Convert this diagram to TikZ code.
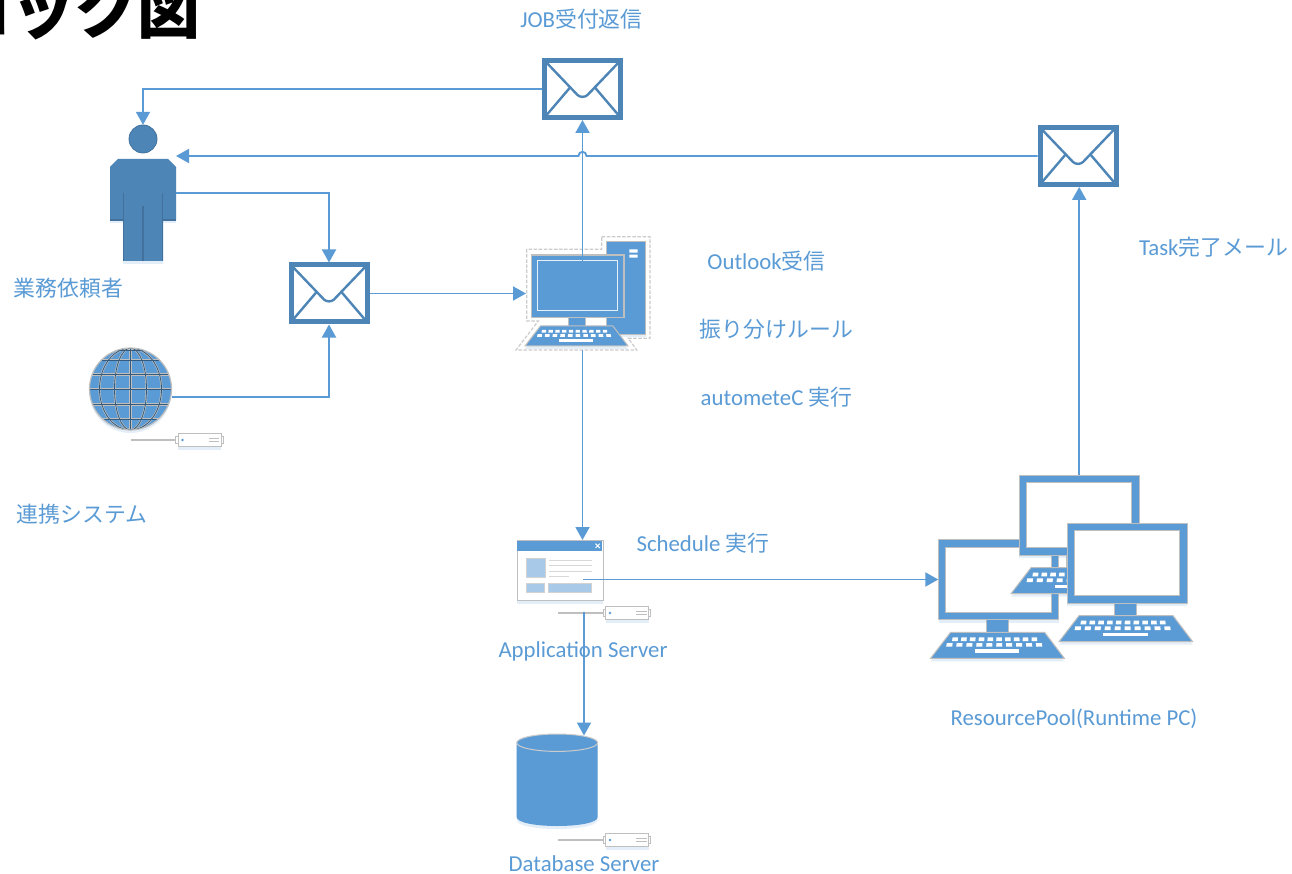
\documentclass[tikz,border=0pt]{standalone}
\usepackage{fontspec}
\setmainfont{Carlito}
\newfontfamily\cjk[Scale=0.96]{Noto Sans CJK JP}
\usetikzlibrary{arrows.meta,shadows,calc}
\definecolor{bl}{HTML}{5B9BD5}
\definecolor{dk}{HTML}{4E85B7}
\definecolor{dkl}{HTML}{41719C}
\definecolor{gr}{HTML}{BFBFBF}
\definecolor{lb}{HTML}{A9C9E8}
\tikzset{
  softshadow/.style={drop shadow={shadow xshift=0pt,shadow yshift=-3pt,fill=bl,opacity=.16}},
  link/.style={draw=bl,line width=1.9pt,-{Triangle[width=14pt,length=13pt]}},
  label/.style={text=bl,font=\fontsize{22.8}{26}\selectfont,inner sep=0pt},
  mailbox/.style={rectangle,draw=dk,fill=white,line width=5pt,minimum width=76pt,minimum height=57pt,inner sep=0pt,
    path picture={
      \begin{scope}[shift={(path picture bounding box.center)}]
        \draw[dk,line width=2.4pt,line join=round] (-38,-28.5) -- (-5,6) .. controls (-2.5,8.5) and (2.5,8.5) .. (5,6) -- (38,-28.5);
        \draw[dk,line width=2.4pt] (-38,28.5) -- (-12,-2) (38,28.5) -- (12,-2);
      \end{scope}
    }},
  monitorbox/.style={rectangle,draw=gr,fill=bl,line width=1pt,minimum width=120pt,minimum height=80pt,inner sep=0pt,anchor=north west,softshadow},
  pcpart/.style={draw=gr,fill=bl,line width=1pt},
  tagbox/.style={draw=gr,line width=1pt,fill=white},
  keyfill/.style={fill=white,draw=none}
}
% stand, keyboard and keys in the monitor's own frame
\newcommand{\kbdparts}{%
  \fill[bl] (48,80) rectangle (70,93);
  \draw[gr,line width=.8pt] (48,80) -- (48,93) (70,80) -- (70,93);
  \path[pcpart,softshadow] (12.3,93) -- (106.3,93) -- (126,119) -- (-7.7,119) -- cycle;
  \foreach \i in {0,...,9}{
    \pgfmathsetmacro{\xa}{18+\i*8.55}
    \pgfmathsetmacro{\sk}{(\i-4.5)*.22}
    \fill[keyfill] (\xa-2.7+\sk,98) -- (\xa+2.7+\sk,98) -- (\xa+2.7+\sk*1.3,101.7) -- (\xa-3+\sk*1.3,101.7) -- cycle;
    \pgfmathsetmacro{\xb}{13+\i*9.55}
    \pgfmathsetmacro{\sl}{(\i-4.5)*.35}
    \fill[keyfill] (\xb-2.9+\sl,103.7) -- (\xb+2.9+\sl,103.7) -- (\xb+3+\sl*1.3,107.4) -- (\xb-3.1+\sl*1.3,107.4) -- cycle;
  }
  \fill[keyfill] (36.7,110) rectangle (81,113.4);
}
% #1 name, #2 x, #3 y
\newcommand{\monitorat}[3]{%
  \begin{scope}[shift={(#2,#3)}]
    \kbdparts
    \node[monitorbox] (#1) at (0,0) {};
    \draw[gr,fill=white,line width=1pt] (7.3,7.7) rectangle (113,73);
  \end{scope}}
% #1 name, #2 x of line start, #3 y
\newcommand{\servertag}[3]{%
  \begin{scope}[shift={(#2,#3)}]
    \draw[gr,line width=1.2pt] (0,0) -- (45,0);
    \path[tagbox] (45,-3.5) rectangle (48,3.5);
    \path[tagbox] (89.5,-3.5) rectangle (92.5,3.5);
    \node[tagbox,rectangle,minimum width=43pt,minimum height=13pt,inner sep=0pt,anchor=west,softshadow] (#1) at (47,0) {};
    \fill[bl] (52,0) circle (1.4);
    \draw[gr,line width=.9pt] (78,-1.6) -- (88.5,-1.6) (78,1.6) -- (88.5,1.6);
  \end{scope}}
\begin{document}
\begin{tikzpicture}[x=1pt,y=-1pt]
\useasboundingbox (0,0) rectangle (1292,874);
\clip (0,0) rectangle (1292,874);
\fill[white] (0,0) rectangle (1292,874);

% title
\node[anchor=base west,inner sep=0pt,font=\fontsize{65.6}{72}\selectfont\cjk\bfseries] (title) at (-52,33.5) {ロック図};

% envelopes
\node[mailbox] (mail1) at (582.5,89) {};
\node[mailbox] (mail2) at (1078,156) {};
\node[mailbox] (mail3) at (329,293.5) {};

% person
\path[fill=dk,draw=dkl,line width=.8pt] (143,139) circle (14);
\node[circle,minimum size=28pt,inner sep=0pt] (head) at (143,139) {};
\path[fill=dk,softshadow] (118,159) -- (168,159) -- (176,167) -- (176,220) -- (163,220) -- (163,261) -- (123,261) -- (123,220) -- (110,220) -- (110,167) -- cycle;
\draw[dkl,line width=1.1pt] (123.5,193) -- (123.5,261) (162.5,193) -- (162.5,261) (143,206) -- (143,261) (110,220) -- (123,220) (163,220) -- (176,220);
\node[inner sep=0pt,minimum width=66pt,minimum height=102pt] (person) at (143,210) {};
\coordinate (personin) at (176,156);
\coordinate (personout) at (176,193);

% globe
\node[circle,fill=bl,minimum size=82pt,inner sep=0pt,softshadow] (globe) at (130.5,389) {};
\begin{scope}
  \clip (130.5,389) circle (41);
  \begin{scope}[shift={(130.5,389)}]
    \foreach \c/\w in {{gr}/2.1pt,{dkl!80!black}/.8pt}{
      \draw[\c,line width=\w] (0,-41) -- (0,41) (-41,0) -- (41,0);
      \draw[\c,line width=\w] (0,0) ellipse [x radius=16,y radius=41];
      \draw[\c,line width=\w] (0,0) ellipse [x radius=31,y radius=41];
      \draw[\c,line width=\w] (-41,-29) -- (41,-29) (-41,-14.5) -- (41,-14.5) (-41,15.5) -- (41,15.5) (-41,30) -- (41,30);
      \draw[\c,line width=\w] (-41,-39) -- (41,-39);
    }
  \end{scope}
\end{scope}
\draw[gr,line width=1.2pt] (130.5,389) circle (41);
\coordinate (globeout) at (172,397);
\servertag{tagglobe}{130.5}{440}

% desktop PC
\path[draw=gr!80!white,line width=1.2pt,dash pattern=on 3.5pt off 1.6pt] (601.7,236.7) -- (650,236.7) -- (650,338.3) -- (628.3,338.3) -- (636.7,350) -- (516,350) -- (538.3,321) -- (526.7,321) -- (526.7,249.3) -- (601.7,249.3) -- cycle;
\path[pcpart,softshadow] (606.7,241.7) rectangle (645.7,334);
\fill[white] (629.3,249.3) rectangle (637.7,252.7) (629.3,254.7) rectangle (637.7,257.7);
\begin{scope}[shift={(531,254.3)},scale=.77]
  \kbdparts
\end{scope}
\node[rectangle,draw=gr,fill=bl,line width=1.3pt,minimum width=92.3pt,minimum height=62.3pt,inner sep=0pt,anchor=north west] (pc) at (531,254.3) {};
\draw[white!85!bl,line width=1pt] (537,260.7) rectangle (617.7,310.7);
\coordinate (pcin) at (526,293.5);
\coordinate (pctop) at (582.5,262);
\coordinate (pcbottom) at (582.5,350);

% application window
\node[rectangle,draw=gr,fill=white,line width=1pt,minimum width=86pt,minimum height=60pt,inner sep=0pt,anchor=north west,softshadow] (window) at (516.7,540) {};
\fill[bl] (517.2,541) rectangle (602.2,551);
\draw[white,line width=1pt] (595.5,543.7) -- (599.8,548) (599.8,543.7) -- (595.5,548);
\path[fill=lb,draw=gr!70!white,line width=.7pt] (526.7,558.3) rectangle (545,577.7);
\draw[gr!60!white,line width=.9pt] (549,560.3) -- (592.3,560.3) (549,565.7) -- (592.3,565.7) (549,571) -- (592.3,571) (549,576.3) -- (568.7,576.3);
\path[fill=lb,draw=gr!70!white,line width=.7pt] (526.7,583.3) rectangle (544.3,592.3);
\path[fill=lb,draw=gr!70!white,line width=.7pt] (548,583.3) rectangle (591.3,592.3);
\coordinate (windowout) at (583,579.5);
\coordinate (windowdown) at (584,612);
\servertag{tagapp}{558}{613}

% resource pool
\monitorat{mleft}{938.3}{539.3}
\monitorat{mback}{1018.7}{474.7}
\monitorat{mright}{1066.7}{522.7}

% database
\path[fill=bl,softshadow] (516.7,742.7) -- (516.7,817) .. controls (516.7,829) and (597.7,829) .. (597.7,817) -- (597.7,742.7) -- cycle;
\path[fill=bl,draw=gr!80!white,line width=1pt] (557.2,742.7) ellipse [x radius=40.5,y radius=8.7];
\node[inner sep=0pt,minimum width=81pt,minimum height=92pt] (db) at (557.2,780) {};
\coordinate (dbtop) at (584,735.5);
\servertag{tagdb}{558}{840}

% connectors
\draw[link] (mail1.west) -| (head.north);
\draw[link] (mail2.west) -- (586.5,156) .. controls (586.5,150.5) and (578.5,150.5) .. (578.5,156) -- (personin);
\draw[link] (personout) -| (mail3.north);
\draw[link] (mail3.east) -- (pcin);
\draw[link] (globeout) -| (mail3.south);
\draw[link] (pctop) -- (mail1.south);
\draw[link] (pcbottom) -- (pcbottom |- window.north);
\draw[link] (windowout) -- (windowout -| mleft.west);
\draw[link] (windowdown) -- (dbtop);
\draw[link] (mback.north) -- (mback.north |- mail2.south);

% labels
\node[label] (ljob) at (581.5,19) {JOB{\cjk 受付返信}};
\node[label] (lreq) at (68.5,288) {\cjk 業務依頼者};
\node[label] (lsys) at (82,514) {\cjk 連携システム};
\node[label] (lout) at (766.5,261) {Outlook{\cjk 受信}};
\node[label] (lrule) at (776.5,329) {\cjk 振り分けルール};
\node[label] (lauto) at (776.5,397) {autometeC {\cjk 実行}};
\node[label] (ltask) at (1213.5,247) {Task{\cjk 完了メール}};
\node[label] (lsch) at (703,543) {Schedule {\cjk 実行}};
\node[label] (lapp) at (583,651) {Application Server};
\node[label] (ldb) at (584,863.5) {Database Server};
\node[label] (lpool) at (1074,719) {ResourcePool(Runtime PC)};
\end{tikzpicture}
\end{document}
